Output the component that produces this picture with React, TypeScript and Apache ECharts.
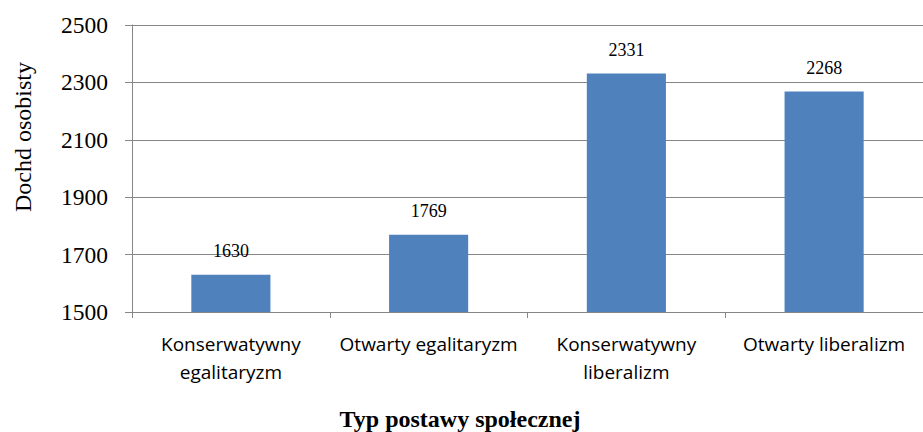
import React, { useEffect, useRef } from "react";
import * as echarts from "echarts";

const categories = [
  "Konserwatywny\negalitaryzm",
  "Otwarty egalitaryzm",
  "Konserwatywny\nliberalizm",
  "Otwarty liberalizm",
];
const values = [1630, 1769, 2331, 2268];
const yMin = 1500;
const yMax = 2500;
const yInterval = 200;
const yTitle = "Dochd osobisty";
const xTitle = "Typ postawy społecznej";

export default function App() {
  const ref = useRef<HTMLDivElement>(null);
  useEffect(() => {
    document.body.style.margin = "0";
    const chart = echarts.init(ref.current!, null, { renderer: "svg" });
    chart.setOption({
      animation: false,
      grid: { left: 132, right: -11, top: 25, bottom: 120 },
      xAxis: {
        type: "category",
        data: categories,
        axisLine: { lineStyle: { color: "#868686", width: 1 } },
        axisTick: { show: true, length: 6, lineStyle: { color: "#868686" } },
        axisLabel: {
          fontFamily: "Open Sans",
          fontSize: 19,
          color: "#000",
          lineHeight: 28,
          margin: 18,
          interval: 0,
        },
      },
      yAxis: {
        type: "value",
        min: yMin,
        max: yMax,
        interval: yInterval,
        axisLine: { show: true, lineStyle: { color: "#868686", width: 1 } },
        axisTick: { show: true, length: 7, lineStyle: { color: "#868686" } },
        splitLine: { lineStyle: { color: "#868686", width: 1 } },
        axisLabel: {
          fontFamily: "Liberation Serif",
          fontSize: 23.5,
          color: "#000",
          margin: 24,
          formatter: (v: number) => String(v),
        },
      },
      graphic: [
        {
          type: "text",
          x: 23,
          y: 137,
          rotation: Math.PI / 2,
          style: {
            text: yTitle,
            font: "24px 'Liberation Serif'",
            fill: "#000",
            textAlign: "center",
            textVerticalAlign: "middle",
          },
        },
        {
          type: "text",
          x: 460,
          y: 419,
          style: {
            text: xTitle,
            font: "bold 24px 'Liberation Serif'",
            fill: "#000",
            textAlign: "center",
            textVerticalAlign: "middle",
          },
        },
      ],
      series: [
        {
          type: "bar",
          data: values,
          barWidth: "40%",
          itemStyle: { color: "#4F81BD" },
          label: {
            show: true,
            position: "top",
            distance: 15,
            fontFamily: "Liberation Serif",
            fontSize: 18,
            color: "#000",
          },
        },
      ],
    });
    return () => chart.dispose();
  }, []);
  return <div ref={ref} style={{ width: 923, height: 432 }} />;
}
